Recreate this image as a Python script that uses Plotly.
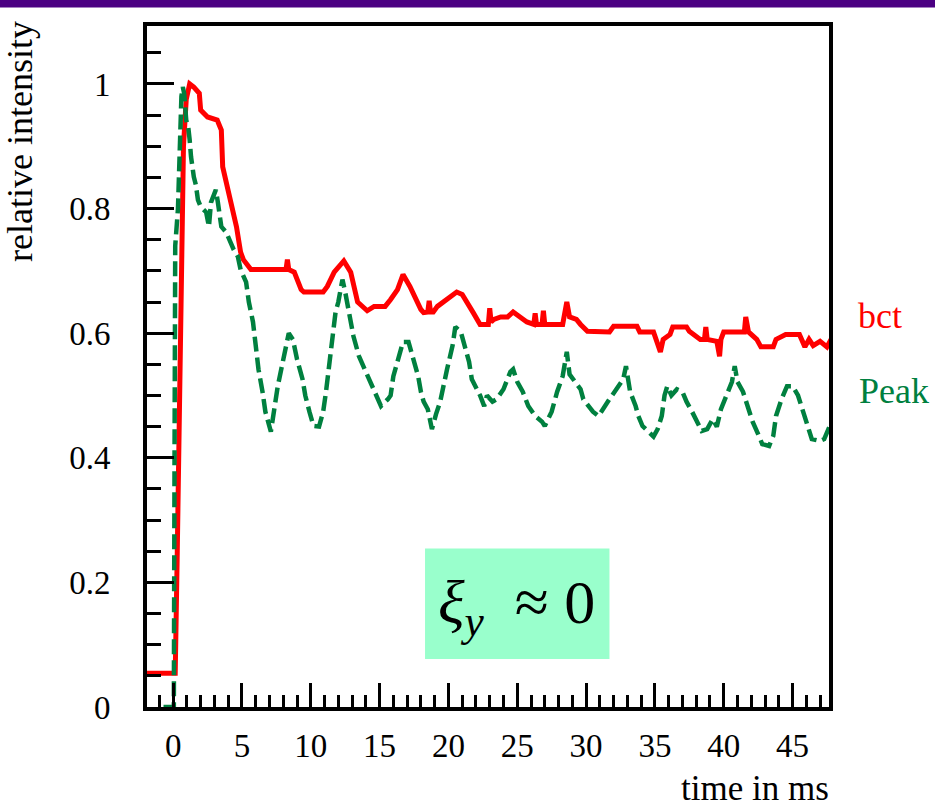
import plotly.graph_objects as go

# ---- data ----
bct_t = [-2, 0.15, 0.3, 0.45, 0.6, 0.75, 0.95, 1.2, 1.5, 1.9, 2.0, 2.5, 3.2, 3.5, 3.6, 4.0, 4.6, 4.9,
         5.1, 5.65, 8.2, 8.3, 8.4, 8.8, 9.3, 9.5, 10.9, 11.2, 11.7, 12.4, 12.9, 13.4, 14.1, 14.6,
         15.4, 15.8, 16.3, 16.7, 17.2, 18.0, 18.2, 18.5, 18.6, 18.7, 18.9, 19.2, 19.9, 20.6, 21.0,
         21.4, 21.8, 22.3, 22.9, 23.0, 23.1, 23.3, 23.8, 24.3, 24.7, 25.2, 25.7, 26.2, 26.3, 26.4,
         26.8, 26.9, 27.0, 28.3, 28.6, 28.8, 29.3, 29.6, 30.1, 31.7, 32.0, 33.7, 33.9, 34.9, 35.2,
         35.4, 35.6, 36.1, 36.3, 37.3, 37.5, 38.3, 38.6, 38.7, 38.8, 39.5, 39.7, 39.8, 40.0, 41.5,
         41.6, 41.8, 42.4, 42.7, 43.6, 43.8, 44.5, 45.5, 45.9, 46.2, 46.5, 47.0, 47.5, 47.8]
bct_v = [0.054, 0.054, 0.25, 0.5, 0.75, 0.9, 0.975, 1.0, 0.995, 0.985, 0.958, 0.947, 0.942, 0.926,
         0.867, 0.826, 0.771, 0.73, 0.718, 0.702, 0.702, 0.718, 0.702, 0.698, 0.67, 0.666, 0.666,
         0.675, 0.698, 0.716, 0.698, 0.65, 0.636, 0.643, 0.643, 0.654, 0.67, 0.694, 0.675, 0.638,
         0.633, 0.634, 0.652, 0.634, 0.634, 0.643, 0.654, 0.666, 0.662, 0.649, 0.633, 0.614, 0.614,
         0.64, 0.618, 0.622, 0.626, 0.626, 0.634, 0.626, 0.618, 0.614, 0.632, 0.614, 0.614, 0.636,
         0.614, 0.614, 0.65, 0.626, 0.622, 0.614, 0.603, 0.602, 0.611, 0.611, 0.602, 0.602, 0.585,
         0.57, 0.59, 0.598, 0.61, 0.61, 0.603, 0.59, 0.59, 0.61, 0.59, 0.587, 0.563, 0.59, 0.602,
         0.602, 0.626, 0.602, 0.59, 0.578, 0.578, 0.59, 0.598, 0.598, 0.578, 0.59, 0.58, 0.587,
         0.578, 0.59]

peak_t = [-0.7, 0.05, 0.1, 0.15, 0.35, 0.45, 0.5, 0.6, 0.7, 0.8, 0.95, 1.1, 1.2, 1.3, 1.5, 1.65,
          1.8, 2.0, 2.4, 2.6, 2.75, 3.1, 3.25, 3.5, 3.85, 4.06, 4.4, 4.7, 4.9, 5.3, 5.5, 5.8, 6.0,
          6.2, 6.5, 6.7, 7.1, 7.3, 7.6, 7.9, 8.2, 8.4, 8.7, 9.0, 9.4, 9.6, 9.9, 10.2, 10.6, 10.9,
          11.1, 11.3, 11.6, 11.8, 12.0, 12.3, 12.5, 12.8, 13.1, 13.5, 14.0, 14.3, 14.7, 15.1, 15.6,
          15.8, 16.0, 16.4, 16.7, 17.1, 17.4, 17.8, 18.0, 18.2, 18.5, 18.7, 18.8, 19.1, 19.4, 19.9,
          20.3, 20.5, 20.9, 21.1, 21.5, 21.7, 22.1, 22.3, 22.6, 22.8, 23.2, 23.5, 24.0, 24.5, 24.7,
          25.0, 25.4, 25.8, 26.3, 26.8, 27.0, 27.5, 27.9, 28.3, 28.6, 28.8, 29.2, 29.6, 29.8, 30.2,
          30.5, 30.9, 31.2, 31.7, 32.2, 32.7, 32.9, 33.2, 33.6, 33.8, 34.1, 34.5, 34.9, 35.2, 35.5,
          35.7, 35.9, 36.2, 36.6, 37.0, 37.3, 37.7, 38.1, 38.4, 38.8, 39.2, 39.5, 39.8, 40.2, 40.6,
          40.8, 41.0, 41.4, 41.7, 42.1, 42.5, 42.8, 43.3, 43.6, 43.8, 44.2, 44.6, 45.0, 45.4, 45.7,
          46.1, 46.4, 47.0, 47.3, 47.7]
peak_v = [0.0, 0.0, 0.4, 0.74, 0.8, 0.88, 0.958, 0.98, 0.995, 0.985, 0.942, 0.93, 0.91, 0.883,
          0.851, 0.838, 0.814, 0.803, 0.794, 0.771, 0.81, 0.83, 0.81, 0.771, 0.762, 0.75, 0.734,
          0.723, 0.702, 0.682, 0.65, 0.618, 0.58, 0.542, 0.505, 0.474, 0.442, 0.474, 0.515, 0.547,
          0.58, 0.6, 0.59, 0.558, 0.526, 0.5, 0.474, 0.451, 0.45, 0.474, 0.505, 0.542, 0.59, 0.634,
          0.65, 0.686, 0.666, 0.634, 0.595, 0.563, 0.538, 0.522, 0.5, 0.483, 0.494, 0.5, 0.531,
          0.563, 0.586, 0.586, 0.563, 0.531, 0.506, 0.49, 0.478, 0.458, 0.446, 0.47, 0.49, 0.542,
          0.58, 0.61, 0.602, 0.586, 0.554, 0.526, 0.51, 0.5, 0.483, 0.5, 0.49, 0.494, 0.51, 0.538,
          0.542, 0.522, 0.506, 0.483, 0.467, 0.458, 0.451, 0.474, 0.506, 0.531, 0.57, 0.534, 0.522,
          0.51, 0.494, 0.483, 0.474, 0.467, 0.478, 0.494, 0.51, 0.526, 0.547, 0.506, 0.483, 0.467,
          0.451, 0.443, 0.434, 0.446, 0.467, 0.5, 0.515, 0.5, 0.51, 0.506, 0.49, 0.474, 0.458,
          0.443, 0.446, 0.462, 0.45, 0.478, 0.5, 0.522, 0.547, 0.522, 0.506, 0.483, 0.458, 0.438,
          0.422, 0.419, 0.435, 0.467, 0.494, 0.515, 0.515, 0.5, 0.478, 0.451, 0.43, 0.427, 0.43,
          0.451]

series_names = ["bct", "Peak"]
x_title = "time in ms"
y_title = "relative intensity"
box_text = "<i>ξ</i><sub><i>y</i></sub>  ≈ 0"

# ---- styling ----
RED = "#ff0000"
GREEN = "#00803f"
FONT = "Liberation Serif"
W, H = 935, 807
ML, MR, MT, MB = 147, 106, 26, 100
PW, PH = W - ML - MR, H - MT - MB

def px_to_paper(px, py):
    return (px - ML) / PW, (H - MB - py) / PH

fig = go.Figure()
fig.add_trace(go.Scatter(x=bct_t, y=bct_v, mode="lines", name=series_names[0],
                         line=dict(color=RED, width=5)))
fig.add_trace(go.Scatter(x=peak_t, y=peak_v, mode="lines", name=series_names[1],
                         line=dict(color=GREEN, width=4.5, dash="15px,6px")))

axis_common = dict(showgrid=False, zeroline=False, showline=True, linewidth=4,
                   linecolor="black", mirror=True, ticks="inside", tickwidth=3,
                   tickcolor="black", tickfont=dict(family=FONT, size=33, color="black"))

fig.update_xaxes(range=[-1.9, 47.65], dtick=5, tick0=0, ticklen=24,
                 minor=dict(dtick=1, tick0=0, ticklen=12, tickwidth=3, ticks="inside",
                            tickcolor="black", showgrid=False),
                 ticklabelstandoff=6, **axis_common)
fig.update_yaxes(range=[0, 1.093], dtick=0.2, tick0=0, ticklen=27,
                 minor=dict(dtick=0.05, tick0=0, ticklen=14, tickwidth=3, ticks="inside",
                            tickcolor="black", showgrid=False),
                 ticklabelstandoff=26, **axis_common)

# highlighted box with formula (decoration)
fig.add_shape(type="rect", xref="x", yref="y", x0=18.3, x1=31.7, y0=0.077, y1=0.2545,
              fillcolor="#99ffcc", line=dict(width=0), layer="below")
fig.add_annotation(x=24.95, y=0.162, xref="x", yref="y", text=box_text, showarrow=False,
                   font=dict(family=FONT, size=62, color="black"), xanchor="center",
                   yanchor="middle")

# purple header bar
bx0, by0 = px_to_paper(0, 7.5)
bx1, by1 = px_to_paper(W, 0)
fig.add_shape(type="rect", xref="paper", yref="paper", x0=bx0, x1=bx1, y0=by0, y1=by1,
              fillcolor="#4b0082", line=dict(width=0))

# series labels
lx, ly = px_to_paper(880, 316)
fig.add_annotation(x=lx, y=ly, xref="paper", yref="paper", text=series_names[0],
                   showarrow=False, xanchor="center", yanchor="middle",
                   font=dict(family=FONT, size=36, color=RED))
lx, ly = px_to_paper(894, 391)
fig.add_annotation(x=lx, y=ly, xref="paper", yref="paper", text=series_names[1],
                   showarrow=False, xanchor="center", yanchor="middle",
                   font=dict(family=FONT, size=36, color=GREEN))

# axis titles
tx, ty = px_to_paper(831, 788)
fig.add_annotation(x=tx, y=ty, xref="paper", yref="paper", text=x_title, showarrow=False,
                   xanchor="right", yanchor="middle",
                   font=dict(family=FONT, size=35, color="black"))
tx, ty = px_to_paper(20, 142)
fig.add_annotation(x=tx, y=ty, xref="paper", yref="paper", text=y_title, showarrow=False,
                   textangle=-90, xanchor="center", yanchor="middle",
                   font=dict(family=FONT, size=36, color="black"))

fig.update_layout(width=W, height=H, margin=dict(l=ML, r=MR, t=MT, b=MB, autoexpand=False),
                  paper_bgcolor="white", plot_bgcolor="white", showlegend=False)

fig.write_html("out.html")
